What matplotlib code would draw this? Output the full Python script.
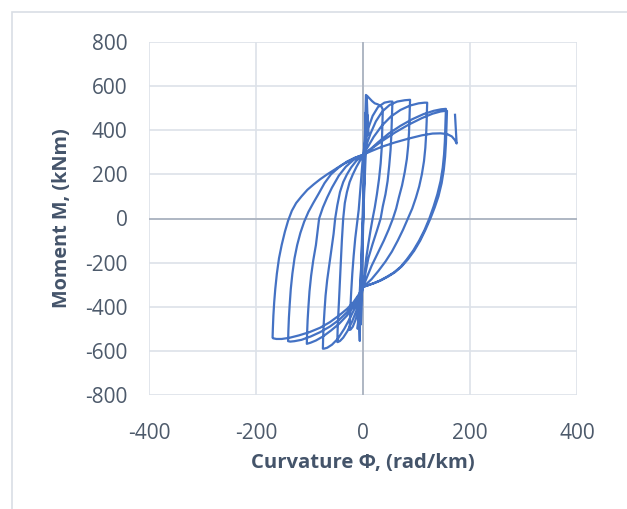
import matplotlib
matplotlib.use('Agg')
import matplotlib.pyplot as plt
from matplotlib.patches import Rectangle

# Moment-curvature hysteresis, read off the reference picture branch by branch
# (curvature in rad/km, moment in kNm)
elastic_phi = [0, 3, 5, 1, -2, -4, 2, 7, 9, 6, 10, 8, -3, -10, -8, -6]
elastic_m = [0, 250, 480, 100, -250, -480, 150, 555, 420, 500, 380, 470, -200, -500, -440, -555]

c1_up_phi = [-6, -5.5, -4.5, -3, -1.5, 0, 1.5, 3, 4.5, 5.5, 8, 12, 17, 22, 27, 32, 35, 37]
c1_up_m = [-555, -450, -320, -180, -50, 60, 180, 320, 460, 560, 555, 545, 532, 522, 518,
           512, 505, 493]
c1_down_phi = [37, 36.5, 36, 35, 33, 30, 26, 22, 18, 14, 10, 6, 3, 0, -4, -9, -14, -19,
               -23, -25]
c1_down_m = [493, 450, 390, 320, 250, 180, 110, 50, 0, -55, -115, -180, -250, -310, -370,
             -420, -460, -490, -503, -505]

c2_up_phi = [-25, -24.5, -23.5, -22, -20, -17.5, -14.5, -11, -8, -6, -4, -2, 0, 4, 10, 18,
             28, 40, 50, 55]
c2_up_m = [-505, -460, -400, -330, -250, -170, -90, -20, 40, 100, 160, 220, 285, 350, 410,
           465, 505, 525, 530, 530]
c2_down_phi = [55, 54.5, 54, 53, 51.5, 49, 46, 42, 37, 33, 26, 18, 10, 4, 0, -5, -12, -20,
               -29, -37, -43, -47, -48]
c2_down_m = [530, 490, 440, 380, 310, 240, 170, 110, 55, 0, -55, -115, -180, -255, -310,
             -360, -415, -465, -510, -540, -555, -560, -560]

c3_up_phi = [-48, -47.5, -46.5, -45, -43.5, -41.5, -39.5, -37, -34, -30, -25, -19, -12, -5,
             0, 6, 14, 24, 36, 50, 64, 78, 88]
c3_up_m = [-560, -510, -450, -380, -300, -200, -100, 0, 70, 120, 165, 200, 235, 265, 285,
           330, 385, 440, 485, 515, 530, 536, 538]
c3_down_phi = [88, 87.5, 87, 86, 84.5, 82, 78, 73, 67, 62, 56, 48, 39, 28, 16, 6, 0, -6,
               -14, -24, -35, -47, -58, -67, -73, -75]
c3_down_m = [538, 500, 450, 390, 330, 270, 210, 150, 95, 45, 0, -50, -100, -155, -215,
             -275, -310, -350, -400, -450, -500, -545, -572, -586, -590, -590]

c4_up_phi = [-75, -74.5, -73.5, -72, -70, -67, -63, -59, -55, -52, -48, -43, -37, -30, -22,
             -13, -5, 0, 8, 20, 35, 52, 70, 88, 104, 115, 120]
c4_up_m = [-590, -540, -480, -420, -350, -280, -210, -140, -70, 0, 60, 120, 165, 200, 232,
           260, 278, 285, 320, 370, 420, 462, 492, 512, 522, 525, 525]
c4_down_phi = [120, 119.5, 119, 118, 116.5, 114, 110, 105, 99, 92, 84, 75, 65, 54, 42, 29,
               16, 5, 0, -8, -18, -30, -45, -60, -75, -88, -98, -104, -105]
c4_down_m = [525, 490, 440, 380, 320, 260, 200, 145, 95, 45, 0, -50, -100, -150, -195,
             -237, -275, -300, -310, -355, -400, -440, -478, -508, -535, -553, -563, -567,
             -568]

c5_up_phi = [-105, -104.5, -103.5, -102, -100, -97, -93, -88, -82, -75, -67, -58, -45, -32,
             -18, -5, 0, 12, 28, 48, 70, 92, 113, 132, 146, 155]
c5_up_m = [-568, -520, -460, -400, -330, -260, -190, -120, 0, 50, 95, 140, 195, 235, 265,
           282, 286, 310, 345, 385, 420, 450, 473, 488, 495, 497]
c5_down_phi = [155, 154.5, 154, 153, 151.5, 149, 145, 139, 132, 124, 115, 105, 94, 82, 70,
               57, 44, 31, 18, 7, 0, -8, -18, -30, -45, -62, -80, -98, -115, -128, -136,
               -140]
c5_down_m = [497, 460, 410, 350, 290, 230, 170, 110, 55, 0, -52, -100, -145, -185, -220,
             -246, -265, -282, -295, -305, -310, -350, -390, -425, -460, -490, -515, -535,
             -550, -556, -558, -556]

c6_up_phi = [-140, -139.5, -138.5, -137, -135, -132, -128, -123, -117, -110, -102, -93,
             -83, -72, -60, -45, -30, -15, 0, 15, 35, 60, 85, 110, 130, 145, 154, 157]
c6_up_m = [-556, -510, -450, -390, -320, -250, -180, -120, -65, -15, 30, 70, 112, 160, 200,
           232, 258, 276, 287, 315, 350, 390, 425, 455, 475, 485, 488, 488]
c6_down_phi = [157, 156.5, 156, 155, 153.5, 151, 147, 141, 134, 126, 117, 107, 96, 84, 72,
               60, 47, 34, 21, 9, 0, -8, -18, -30, -45, -62, -80, -100, -120, -138, -152,
               -162, -168, -169]
c6_down_m = [488, 450, 400, 340, 280, 220, 160, 100, 50, 0, -50, -100, -145, -185, -218,
             -243, -263, -280, -293, -303, -310, -345, -380, -410, -440, -470, -495, -515,
             -530, -541, -546, -546, -543, -540]

c7_up_phi = [-169, -168.5, -167.5, -166, -164, -161, -157, -152, -146, -140, -133, -125,
             -115, -104, -92, -80, -67, -53, -38, -22, -8, 0, 15, 35, 60, 85, 110, 130,
             145, 157, 166, 172, 175, 172]
c7_up_m = [-540, -500, -440, -380, -320, -250, -180, -120, -60, -10, 35, 70, 100, 130, 155,
           178, 200, 222, 245, 265, 282, 289, 305, 325, 345, 362, 377, 385, 386, 383, 372,
           355, 340, 470]

x_ticks = [-400, -200, 0, 200, 400]
y_ticks = [-800, -600, -400, -200, 0, 200, 400, 600, 800]

phi = (elastic_phi + c1_up_phi + c1_down_phi + c2_up_phi + c2_down_phi + c3_up_phi
       + c3_down_phi + c4_up_phi + c4_down_phi + c5_up_phi + c5_down_phi
       + c6_up_phi + c6_down_phi + c7_up_phi)
moment = (elastic_m + c1_up_m + c1_down_m + c2_up_m + c2_down_m + c3_up_m
          + c3_down_m + c4_up_m + c4_down_m + c5_up_m + c5_down_m
          + c6_up_m + c6_down_m + c7_up_m)

plt.rcParams['font.family'] = ['Open Sans', 'DejaVu Sans']
plt.rcParams['axes.unicode_minus'] = False

fig = plt.figure(figsize=(6.27, 5.09), dpi=100)

# chart frame like the spreadsheet chart area
fig.patches.append(Rectangle((12 / 627, -0.1), 1.2, 1 - 12 / 509 + 0.1,
                             transform=fig.transFigure, fill=False,
                             edgecolor='#D9DEE5', lw=1.2))

ax = fig.add_axes([149 / 627, 1 - 395 / 509, 428 / 627, 353 / 509])
ax.set_xlim(-400, 400)
ax.set_ylim(-800, 800)
ax.set_xticks(x_ticks)
ax.set_yticks(y_ticks)
ax.grid(True, color='#DDE2E9', lw=1.2)
ax.set_axisbelow(True)
for s in ax.spines.values():
    s.set_visible(False)
ax.axhline(0, color='#A7AFBC', lw=1.2, zorder=1)
ax.axvline(0, color='#A7AFBC', lw=1.2, zorder=1)

ax.plot(phi, moment, color='#4472C4', lw=1.6, solid_joinstyle='round', zorder=3)

ax.tick_params(length=0, labelsize=15, labelcolor='#4D5A6B')
ax.tick_params(axis='x', pad=20)
ax.tick_params(axis='y', pad=15.5)

ax.set_xlabel('Curvature Φ, (rad/km)', fontsize=14.6, fontweight='bold',
              color='#44546A', va='center')
ax.xaxis.set_label_coords(0.5, -0.193)
ax.set_ylabel('Moment M, (kNm)', fontsize=14.3, fontweight='bold',
              color='#44546A', va='center')
ax.yaxis.set_label_coords(-0.203, 0.5)

fig.savefig('out.png', dpi=100)
